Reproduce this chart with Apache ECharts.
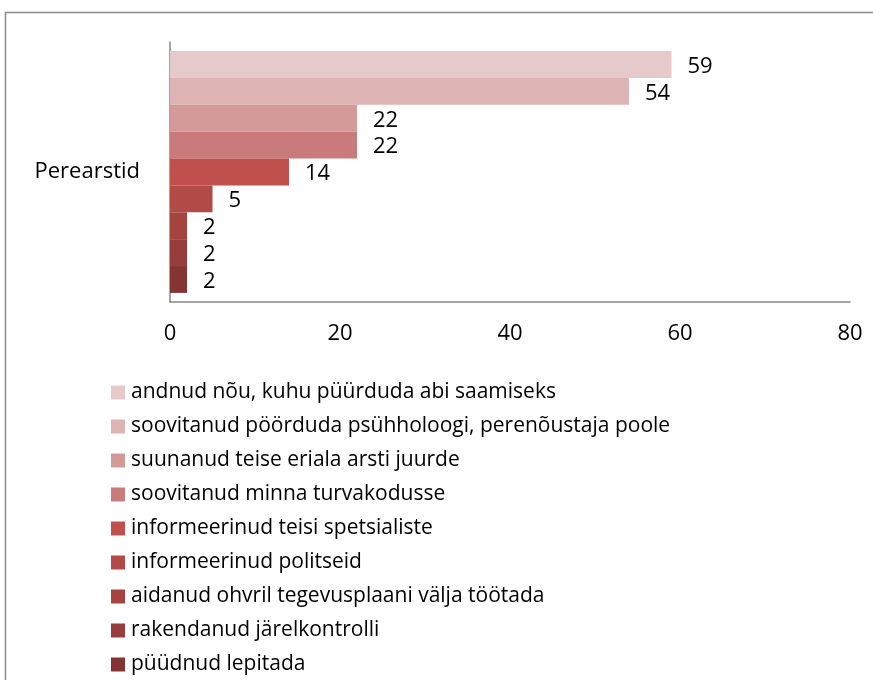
<!DOCTYPE html>
<html>
<head>
<meta charset="utf-8">
<script src="https://cdn.jsdelivr.net/npm/echarts@6/dist/echarts.min.js"></script>
<style>
html, body { margin: 0; padding: 0; background: #fff; }
#chart { width: 873px; height: 680px; }
</style>
</head>
<body>
<div id="chart"></div>
<script>
// andmed
var categories = ['Perearstid'];
var seriesNames = [
	'andnud nõu, kuhu püürduda abi saamiseks',
	'soovitanud pöörduda psühholoogi, perenõustaja poole',
	'suunanud teise eriala arsti juurde',
	'soovitanud minna turvakodusse',
	'informeerinud teisi spetsialiste',
	'informeerinud politseid',
	'aidanud ohvril tegevusplaani välja töötada',
	'rakendanud järelkontrolli',
	'püüdnud lepitada'
];
var seriesValues = [59, 54, 22, 22, 14, 5, 2, 2, 2];
var xTicks = [0, 20, 40, 60, 80];
var colors = ['#E6C9CA', '#DDB3B3', '#D49A9A', '#C97B7B', '#C0504D', '#B24A47', '#A5443F', '#973D3B', '#853434'];

var font = 'Open Sans';

var series = seriesNames.map(function (name, i) {
	return {
		name: name,
		type: 'bar',
		barGap: 0,
		barCategoryGap: '7%',
		itemStyle: { color: colors[i] },
		label: {
			show: true,
			position: 'right',
			distance: 16,
			offset: [0, 2],
			color: '#000',
			fontFamily: font,
			fontSize: 22
		},
		data: [seriesValues[i]]
	};
});

var myChart = echarts.init(document.getElementById('chart'));
myChart.setOption({
	animation: false,
	color: colors,
	grid: { left: 170, right: 23, top: 42, bottom: 378 },
	graphic: [{
		type: 'rect',
		shape: { x: 5.5, y: 12.5, width: 900, height: 700 },
		style: { fill: 'none', stroke: '#8a8a8a', lineWidth: 1.5 },
		silent: true
	}],
	legend: {
		orient: 'vertical',
		left: 111,
		top: 382,
		padding: 0,
		itemWidth: 14,
		itemHeight: 14,
		itemGap: 13,
		icon: 'rect',
		textStyle: { fontFamily: font, fontSize: 21, lineHeight: 21, color: '#000', padding: [0, 0, 0, 1] },
		data: seriesNames
	},
	xAxis: {
		type: 'value',
		min: xTicks[0],
		max: xTicks[xTicks.length - 1],
		interval: 20,
		axisLine: { show: true, lineStyle: { color: '#868686', width: 1.5 } },
		axisTick: { show: false },
		splitLine: { show: false },
		axisLabel: { color: '#000', fontFamily: font, fontSize: 22, margin: 21 }
	},
	yAxis: {
		type: 'category',
		inverse: true,
		data: categories,
		axisLine: { show: true, lineStyle: { color: '#868686', width: 1.5 } },
		axisTick: { show: false },
		axisLabel: { color: '#000', fontFamily: font, fontSize: 22, margin: 30 }
	},
	series: series
});
</script>
</body>
</html>
